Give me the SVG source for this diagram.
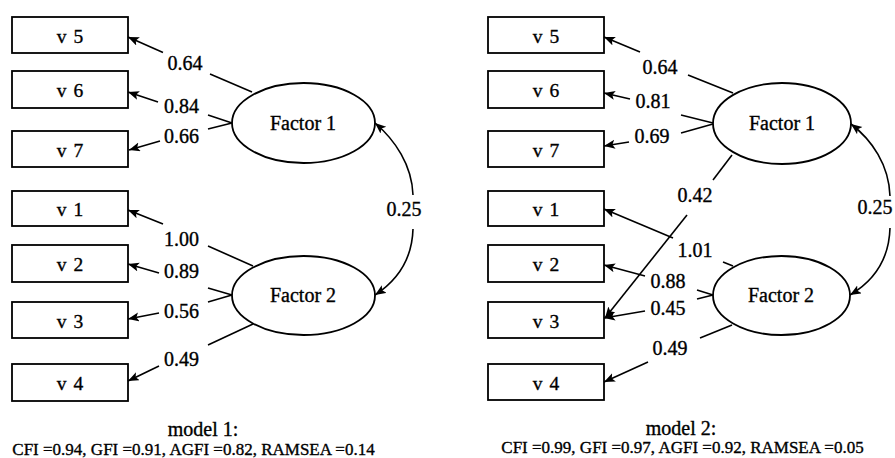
<svg xmlns="http://www.w3.org/2000/svg" width="895" height="458" viewBox="0 0 895 458">
<defs>
<marker id="ah" markerUnits="userSpaceOnUse" markerWidth="14" markerHeight="12" refX="11" refY="4.5" orient="auto-start-reverse" viewBox="0 0 14 12">
<path d="M0,0 L11,4.5 L0,9 L2.5,4.5 z" fill="#000"/>
</marker>
</defs>
<style>
text{font-family:"Liberation Serif","Times New Roman",serif;fill:#000;stroke:#000;stroke-width:0.35}
.box{fill:#fff;stroke:#000;stroke-width:1.8}
.ell{fill:#fff;stroke:#000;stroke-width:1.8}
.bt{font-size:19.5px;text-anchor:middle;word-spacing:2px}
.ft{font-size:20px;text-anchor:middle}
.lb{font-size:20px;text-anchor:middle}
.cap{font-size:20px;text-anchor:middle}
.fit{font-size:17px;text-anchor:middle}
.ln{fill:none;stroke:#000;stroke-width:1.6}
.ar{fill:none;stroke:#000;stroke-width:1.6;marker-end:url(#ah)}
.as{fill:none;stroke:#000;stroke-width:1.6;marker-start:url(#ah)}
</style>

<!-- Model 1 -->
<g id="m1-v5"><rect class="box" x="12" y="17" width="116" height="36"/><text class="bt" x="70" y="43">v 5</text></g>
<g id="m1-v6"><rect class="box" x="12" y="71" width="116" height="37"/><text class="bt" x="70" y="97">v 6</text></g>
<g id="m1-v7"><rect class="box" x="12" y="131" width="116" height="36"/><text class="bt" x="70" y="157">v 7</text></g>
<g id="m1-v1"><rect class="box" x="12" y="191" width="116" height="35"/><text class="bt" x="70" y="216">v 1</text></g>
<g id="m1-v2"><rect class="box" x="12" y="245" width="116" height="37"/><text class="bt" x="70" y="271">v 2</text></g>
<g id="m1-v3"><rect class="box" x="12" y="302" width="116" height="36"/><text class="bt" x="70" y="328">v 3</text></g>
<g id="m1-v4"><rect class="box" x="12" y="364" width="116" height="37"/><text class="bt" x="70" y="390">v 4</text></g>
<g id="m1-f1"><ellipse class="ell" cx="303.5" cy="123" rx="71.5" ry="40"/><text class="ft" x="303" y="130">Factor 1</text></g>
<g id="m1-f2"><ellipse class="ell" cx="303.5" cy="295.5" rx="71.5" ry="39.5"/><text class="ft" x="303" y="302">Factor 2</text></g>

<g id="m1-connectors">
<path class="ln" d="M252,92 L210,74"/><path class="ar" d="M163,52.5 L128,37"/>
<path class="ln" d="M232,123 L208,115"/><path class="ar" d="M158,102 L128,92"/>
<path class="ln" d="M232,123 L208,129"/><path class="ar" d="M160,141 L129,150"/>
<path class="ln" d="M253,266 L208,246"/><path class="ar" d="M163,224 L128,210"/>
<path class="ln" d="M232,295 L208,288"/><path class="ar" d="M159,273 L128,264"/>
<path class="ln" d="M232,295 L208,302"/><path class="ar" d="M159,313 L128,319"/>
<path class="ln" d="M253,324 L208,345"/><path class="ar" d="M159,366 L128,381"/>
<path class="as" d="M375,123 C395,140 412,165 413,195"/>
<path class="ar" d="M413,229 C412,262 395,282 375,295"/>
<text class="lb" x="185" y="70">0.64</text>
<text class="lb" x="181.5" y="113">0.84</text>
<text class="lb" x="181.5" y="143">0.66</text>
<text class="lb" x="181.5" y="246">1.00</text>
<text class="lb" x="181.5" y="278">0.89</text>
<text class="lb" x="181.5" y="318">0.56</text>
<text class="lb" x="181.5" y="366">0.49</text>
<text class="lb" x="404" y="216">0.25</text>
</g>
<text class="cap" x="203" y="436">model 1:</text>
<text class="fit" x="193.5" y="455">CFI =0.94, GFI =0.91, AGFI =0.82, RAMSEA =0.14</text>

<!-- Model 2 -->
<g id="m2-v5"><rect class="box" x="488" y="17" width="116" height="36"/><text class="bt" x="546" y="43">v 5</text></g>
<g id="m2-v6"><rect class="box" x="488" y="71" width="116" height="37"/><text class="bt" x="546" y="97">v 6</text></g>
<g id="m2-v7"><rect class="box" x="488" y="131" width="116" height="36"/><text class="bt" x="546" y="157">v 7</text></g>
<g id="m2-v1"><rect class="box" x="488" y="191" width="116" height="35"/><text class="bt" x="546" y="216">v 1</text></g>
<g id="m2-v2"><rect class="box" x="488" y="245" width="116" height="37"/><text class="bt" x="546" y="271">v 2</text></g>
<g id="m2-v3"><rect class="box" x="488" y="302" width="116" height="36"/><text class="bt" x="546" y="328">v 3</text></g>
<g id="m2-v4"><rect class="box" x="488" y="364" width="116" height="36"/><text class="bt" x="546" y="390">v 4</text></g>
<g id="m2-f1"><ellipse class="ell" cx="782" cy="123.5" rx="69" ry="40.5"/><text class="ft" x="782" y="130">Factor 1</text></g>
<g id="m2-f2"><ellipse class="ell" cx="781.5" cy="295.5" rx="68.5" ry="39.5"/><text class="ft" x="781" y="302">Factor 2</text></g>

<g id="m2-connectors">
<path class="ln" d="M733,93 L688,75"/><path class="ar" d="M640,52 L604,37"/>
<path class="ln" d="M713,123 L681,115"/><path class="ar" d="M630,99 L604,93"/>
<path class="ln" d="M713,124 L681,133"/><path class="ar" d="M629,142 L604,146"/>
<path class="ln" d="M732,155 L713,180"/><path class="ar" d="M687,215 L605,318"/>
<path class="ln" d="M733,266 L723,262"/><path class="ar" d="M673,238 L604,209"/>
<path class="ln" d="M713,295 L697,290"/><path class="ar" d="M645,276 L604,265"/>
<path class="ln" d="M713,295 L697,299"/><path class="ar" d="M645,311 L604,318"/>
<path class="ln" d="M732,325 L700,338"/><path class="ar" d="M648,362 L604,382"/>
<path class="as" d="M851,124 C872,140 889,165 890,196"/>
<path class="ar" d="M890,228 C889,262 872,282 850,295"/>
<text class="lb" x="660" y="74">0.64</text>
<text class="lb" x="653" y="108">0.81</text>
<text class="lb" x="652" y="143">0.69</text>
<text class="lb" x="695" y="202">0.42</text>
<text class="lb" x="695" y="257">1.01</text>
<text class="lb" x="668" y="288">0.88</text>
<text class="lb" x="668" y="315">0.45</text>
<text class="lb" x="670" y="355">0.49</text>
<text class="lb" x="875" y="214">0.25</text>
</g>
<text class="cap" x="681" y="435">model 2:</text>
<text class="fit" x="682.5" y="453">CFI =0.99, GFI =0.97, AGFI =0.92, RAMSEA =0.05</text>
</svg>
